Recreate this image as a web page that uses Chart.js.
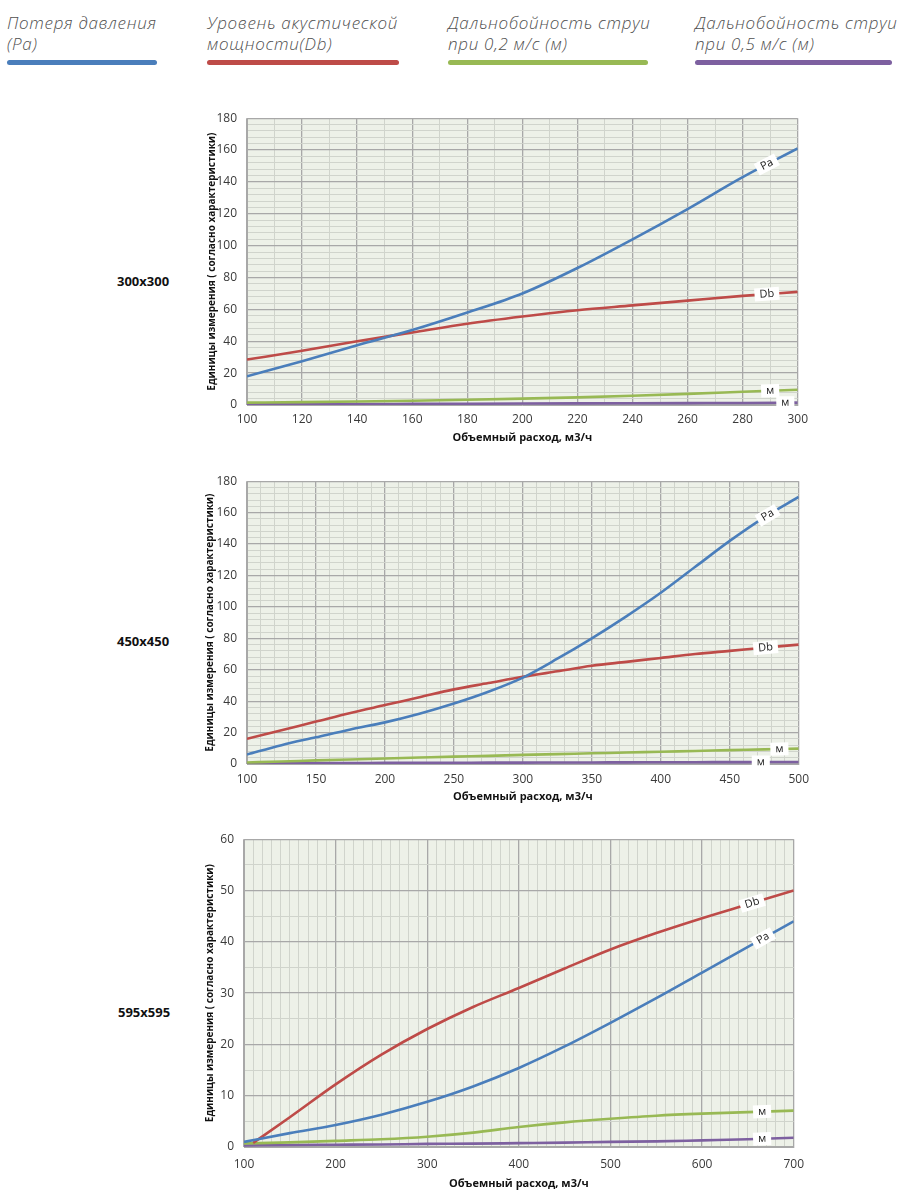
<!DOCTYPE html>
<html lang="ru">
<head>
<meta charset="utf-8">
<script src="https://cdn.jsdelivr.net/npm/chart.js@4.4.1/dist/chart.umd.min.js"></script>
<style>
  body { margin: 0; width: 900px; height: 1195px; background: #fff; position: relative; overflow: hidden; }
  .legend-item { position: absolute; top: 12px; font-family: "Open Sans", sans-serif; font-style: italic; font-weight: 300; font-size: 17px; letter-spacing: 0.7px; line-height: 21px; color: #505050; white-space: nowrap; }
  .legend-item .bar { height: 5px; border-radius: 3px; margin-top: 6px; }
  .size { position: absolute; font: bold 13px "Noto Sans", sans-serif; color: #111; }
  .chart-box { position: absolute; }
</style>
</head>
<body>

<div class="legend-item" style="left:7px">Потеря давления<br>(Pa)<div class="bar" style="width:150px;background:#4a7ebb"></div></div>
<div class="legend-item" style="left:207px">Уровень акустической<br>мощности(Db)<div class="bar" style="width:192px;background:#be4b48"></div></div>
<div class="legend-item" style="left:448px">Дальнобойность струи<br>при 0,2 м/с (м)<div class="bar" style="width:200px;background:#98b954"></div></div>
<div class="legend-item" style="left:695px">Дальнобойность струи<br>при 0,5 м/с (м)<div class="bar" style="width:197px;background:#7d60a0"></div></div>

<div class="size" style="left:117px;top:272px">300x300</div>
<div class="size" style="left:117px;top:632px">450x450</div>
<div class="size" style="left:118px;top:1003px">595x595</div>

<div class="chart-box" style="left:190px;top:101px;width:625px;height:349px"><canvas id="chart300"></canvas></div>
<div class="chart-box" style="left:190px;top:464px;width:627px;height:345px"><canvas id="chart450"></canvas></div>
<div class="chart-box" style="left:190px;top:822px;width:624px;height:370px"><canvas id="chart595"></canvas></div>

<script>
// --- 300x300 ---
const flow300 = [100, 120, 140, 160, 180, 200, 220, 240, 260, 280, 300];
const pa300 = [18, 27.5, 37.5, 47, 58, 70, 86, 104, 123, 143, 161];
const db300 = [28.5, 34, 40, 45.5, 51, 55.5, 59.5, 62.5, 65.5, 68.5, 71];
const jet02_300 = [1.5, 1.8, 2.2, 2.7, 3.3, 4, 4.8, 5.8, 7, 8.3, 9.6];
const jet05_300 = [0.5, 0.55, 0.6, 0.7, 0.8, 0.9, 1.0, 1.1, 1.2, 1.3, 1.5];
const xTicks300 = [100, 120, 140, 160, 180, 200, 220, 240, 260, 280, 300];
const yTicks300 = [0, 20, 40, 60, 80, 100, 120, 140, 160, 180];

// --- 450x450 ---
const flow450 = [100, 125, 150, 175, 200, 225, 250, 275, 300, 325, 350, 375, 400, 425, 450, 475, 500];
const pa450 = [6, 12, 17, 22, 26.5, 32, 38.5, 46, 55, 67, 80, 94, 109, 125.5, 142, 157, 170];
const db450 = [16, 21.5, 27, 32.5, 37.5, 42.5, 47.5, 51.5, 55.5, 59, 62.5, 65, 67.5, 70, 72, 74, 76];
const jet02_450 = [1, 1.6, 2.3, 2.9, 3.5, 4.1, 4.7, 5.2, 5.8, 6.3, 6.8, 7.3, 7.8, 8.3, 8.8, 9.3, 9.8];
const jet05_450 = [0.5, 0.55, 0.6, 0.65, 0.7, 0.75, 0.8, 0.85, 0.9, 0.95, 1.0, 1.05, 1.1, 1.15, 1.2, 1.25, 1.3];
const xTicks450 = [100, 150, 200, 250, 300, 350, 400, 450, 500];
const yTicks450 = [0, 20, 40, 60, 80, 100, 120, 140, 160, 180];

// --- 595x595 ---
const flow595 = [100, 150, 200, 250, 300, 350, 400, 450, 500, 550, 600, 650, 700];
const flowDb595 = [110, 150, 200, 250, 300, 350, 400, 450, 500, 550, 600, 650, 700];
const pa595 = [1, 2.7, 4.3, 6.3, 8.8, 11.8, 15.4, 19.6, 24.2, 29, 34, 39, 44];
const db595 = [0.8, 5.8, 12.2, 18, 23, 27.3, 31, 34.8, 38.5, 41.7, 44.6, 47.3, 50];
const jet02_595 = [0.7, 0.9, 1.2, 1.5, 2.0, 2.8, 3.9, 4.8, 5.5, 6.1, 6.5, 6.8, 7.1];
const jet05_595 = [0.3, 0.4, 0.45, 0.5, 0.6, 0.65, 0.75, 0.85, 1.0, 1.1, 1.3, 1.5, 1.8];
const xTicks595 = [100, 200, 300, 400, 500, 600, 700];
const yTicks595 = [0, 10, 20, 30, 40, 50, 60];

const COLORS = { pa: '#4a7ebb', db: '#be4b48', jet02: '#98b954', jet05: '#7d60a0' };
const MAJOR = '#a8a8a8';
const MINOR = '#d0d4cc';

function pairs(xs, ys) {
    return xs.map((x, i) => ({ x: x, y: ys[i] }));
}

// light green-grey plot area like the Excel original
const plotBg = {
    id: 'plotBg',
    beforeDraw(chart) {
        const { ctx, chartArea: a } = chart;
        ctx.save();
        ctx.fillStyle = '#edf1e8';
        ctx.fillRect(a.left, a.top, a.width, a.height);
        ctx.restore();
    }
};

// "Pa", "Db", "м" tags sitting in a white gap on each curve
const lineTags = {
    id: 'lineTags',
    afterDatasetsDraw(chart, args, opts) {
        const ctx = chart.ctx;
        const xs = chart.scales.x;
        (opts.tags || []).forEach(tag => {
            const pts = chart.getDatasetMeta(tag.ds).data;
            const px = xs.getPixelForValue(tag.at);
            let k = 1;
            while (k < pts.length - 1 && pts[k].x < px) k++;
            const a = pts[k - 1], b = pts[k];
            const t = (px - a.x) / (b.x - a.x);
            const py = a.y + t * (b.y - a.y);
            const ang = Math.atan2(b.y - a.y, b.x - a.x);
            ctx.save();
            ctx.translate(px, py);
            ctx.rotate(ang);
            ctx.font = '11px "Open Sans", sans-serif';
            const w = ctx.measureText(tag.text).width + 10;
            ctx.fillStyle = '#fff';
            ctx.fillRect(-w / 2, -6.5, w, 13);
            ctx.fillStyle = '#1a1a1a';
            ctx.textAlign = 'center';
            ctx.textBaseline = 'middle';
            ctx.fillText(tag.text, 0, 0);
            ctx.restore();
        });
    }
};

function makeChart(id, cfg) {
    const ctx = document.getElementById(id).getContext('2d');
    const line = (data, color) => ({
        data: data,
        borderColor: color,
        borderWidth: 2.6,
        pointRadius: 0,
        fill: false,
        cubicInterpolationMode: 'monotone'
    });
    new Chart(ctx, {
        type: 'line',
        data: {
            datasets: [
                line(cfg.pa, COLORS.pa),
                line(cfg.db, COLORS.db),
                line(cfg.jet02, COLORS.jet02),
                line(cfg.jet05, COLORS.jet05)
            ]
        },
        options: {
            responsive: true,
            maintainAspectRatio: false,
            animation: false,
            layout: { padding: { top: 0, right: 16, left: 0, bottom: 0 } },
            plugins: {
                legend: { display: false },
                tooltip: { enabled: false },
                lineTags: { tags: cfg.tags }
            },
            scales: {
                x: {
                    type: 'linear',
                    min: cfg.xTicks[0],
                    max: cfg.xTicks[cfg.xTicks.length - 1],
                    afterFit: s => { s.height = 45; },
                    ticks: {
                        stepSize: cfg.xStep,
                        autoSkip: false,
                        maxRotation: 0,
                        padding: cfg.xTickPad,
                        color: '#3a3a3a',
                        font: { family: 'Open Sans', size: 12 },
                        callback: v => cfg.xTicks.includes(v) ? String(v) : ''
                    },
                    grid: {
                        drawTicks: false,
                        color: c => cfg.xTicks.includes(c.tick.value) ? MAJOR : MINOR,
                        lineWidth: c => cfg.xTicks.includes(c.tick.value) ? 1.3 : 1
                    },
                    border: { color: MAJOR },
                    title: {
                        display: true,
                        text: 'Объемный расход, м3/ч',
                        color: '#111',
                        font: { family: 'Open Sans', size: 11, weight: 'bold' },
                        padding: { top: 0, bottom: cfg.xTitlePad }
                    }
                },
                y: {
                    type: 'linear',
                    min: cfg.yTicks[0],
                    max: cfg.yTicks[cfg.yTicks.length - 1],
                    afterFit: s => { s.width = cfg.yAxisW; },
                    ticks: {
                        stepSize: cfg.yStep,
                        autoSkip: false,
                        padding: 10,
                        color: '#3a3a3a',
                        font: { family: 'Open Sans', size: 12 },
                        callback: v => cfg.yTicks.includes(v) ? String(v) : ''
                    },
                    grid: {
                        drawTicks: false,
                        color: c => cfg.yTicks.includes(c.tick.value) ? MAJOR : MINOR,
                        lineWidth: c => cfg.yTicks.includes(c.tick.value) ? 1.3 : 1
                    },
                    border: { color: MAJOR },
                    title: {
                        display: true,
                        text: 'Единицы измерения ( согласно характеристики)',
                        color: '#111',
                        font: { family: 'Open Sans', size: 10, weight: 'bold' },
                        padding: { top: cfg.yTitlePad, bottom: 0 }
                    }
                }
            }
        },
        plugins: [plotBg, lineTags]
    });
}

makeChart('chart300', {
    pa: pairs(flow300, pa300),
    db: pairs(flow300, db300),
    jet02: pairs(flow300, jet02_300),
    jet05: pairs(flow300, jet05_300),
    xTicks: xTicks300, yTicks: yTicks300,
    xStep: 10, yStep: 4,
    yAxisW: 57, xTickPad: 7, xTitlePad: 6, yTitlePad: 16,
    tags: [
        { ds: 0, at: 288.8, text: 'Pa' },
        { ds: 1, at: 288.8, text: 'Db' },
        { ds: 2, at: 290, text: 'м' },
        { ds: 3, at: 295.5, text: 'м' }
    ]
});

makeChart('chart450', {
    pa: pairs(flow450, pa450),
    db: pairs(flow450, db450),
    jet02: pairs(flow450, jet02_450),
    jet05: pairs(flow450, jet05_450),
    xTicks: xTicks450, yTicks: yTicks450,
    xStep: 10, yStep: 4,
    yAxisW: 57, xTickPad: 8, xTitlePad: 6, yTitlePad: 14,
    tags: [
        { ds: 0, at: 477.5, text: 'Pa' },
        { ds: 1, at: 476, text: 'Db' },
        { ds: 2, at: 486, text: 'м' },
        { ds: 3, at: 472.5, text: 'м' }
    ]
});

makeChart('chart595', {
    pa: pairs(flow595, pa595),
    db: pairs(flowDb595, db595),
    jet02: pairs(flow595, jet02_595),
    jet05: pairs(flow595, jet05_595),
    xTicks: xTicks595, yTicks: yTicks595,
    xStep: 10, yStep: 5,
    yAxisW: 54, xTickPad: 10, xTitlePad: 2, yTitlePad: 14,
    tags: [
        { ds: 0, at: 666.5, text: 'Pa' },
        { ds: 1, at: 654.7, text: 'Db' },
        { ds: 2, at: 665.5, text: 'м' },
        { ds: 3, at: 665.5, text: 'м' }
    ]
});
</script>
</body>
</html>
